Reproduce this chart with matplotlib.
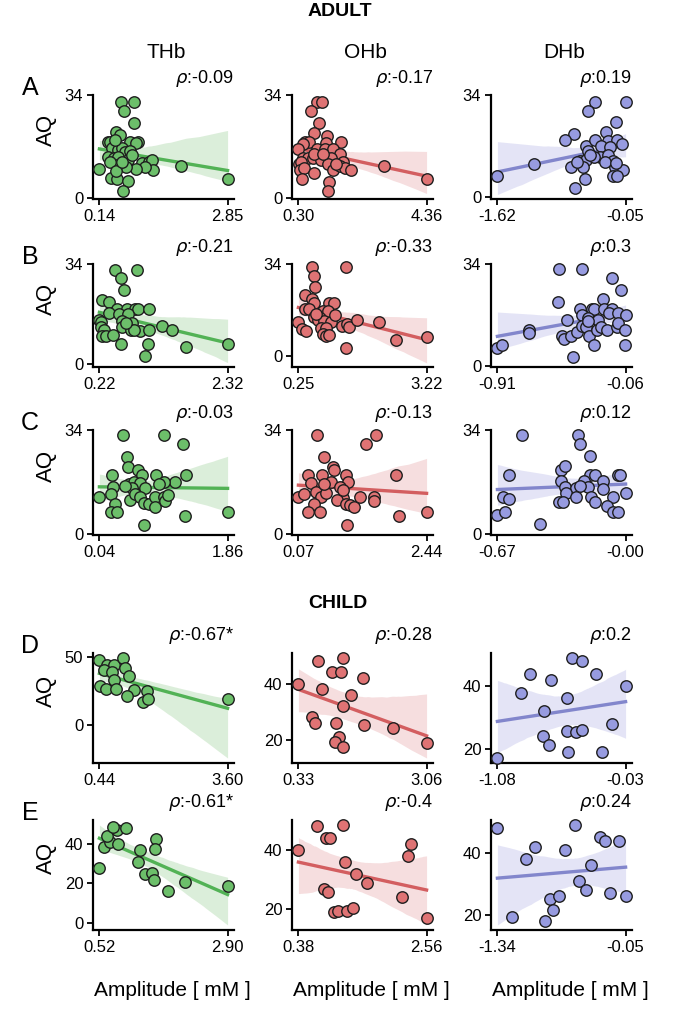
import numpy as np
import matplotlib
matplotlib.use("Agg")
import matplotlib.pyplot as plt

plt.rcParams['font.family'] = ['Liberation Sans', 'DejaVu Sans']
plt.rcParams['mathtext.fontset'] = 'dejavusans'

# ---------------- data ----------------
# ADULT, row A
a_thb_x = [0.60, 0.88, 0.67, 0.88, 0.49, 0.58, 0.33, 0.37, 0.79, 0.95, 0.91, 0.40, 0.53, 0.61, 0.68, 0.79, 0.32, 0.44, 0.54, 0.75,
           0.83, 1.04, 1.18, 1.25, 1.28, 1.11, 0.91, 0.71, 0.51, 0.37, 0.14, 0.39, 0.51, 0.74, 0.63, 1.86, 2.85, 0.49, 0.61, 0.46]
a_thb_y = [31.8, 31.8, 28.7, 24.6, 21.6, 20.8, 18.5, 18.3, 18.5, 18.5, 18.0, 16.4, 15.8, 16.4, 15.3, 15.6, 13.4, 13.1, 13.6, 12.5,
           14.2, 11.4, 11.7, 12.5, 9.2, 10.1, 9.5, 10.1, 10.9, 12.0, 9.5, 6.5, 6.3, 5.4, 2.3, 10.6, 6.3, 8.7, 11.7, 19.1]
a_ohb_x = [0.88, 1.05, 0.70, 0.94, 0.78, 1.20, 1.64, 0.51, 0.62, 1.18, 0.43, 0.88, 1.13, 1.41, 1.61, 0.30, 0.43, 0.59, 0.75, 1.02,
           1.34, 1.71, 1.23, 0.32, 0.38, 0.34, 0.48, 1.41, 1.61, 1.77, 1.98, 0.41, 0.78, 1.26, 1.23, 3.00, 4.36, 1.48, 0.80, 1.07]
a_ohb_y = [31.8, 31.8, 28.8, 24.6, 21.5, 20.4, 18.5, 18.5, 18.5, 18.2, 17.9, 16.3, 16.3, 16.1, 14.6, 16.3, 13.3, 13.3, 13.3, 12.4,
           13.0, 11.8, 11.3, 11.3, 11.8, 9.3, 10.0, 9.3, 10.4, 10.0, 9.3, 6.3, 8.3, 5.2, 2.1, 10.4, 6.1, 11.3, 14.6, 14.4]
a_dhb_x = [-1.62, -1.17, -0.43, -0.51, -0.05, -0.17, -0.68, -0.79, -0.54, -0.42, -0.29, -0.27, -0.15, -0.51, -0.35, -0.24, -0.61, -0.54,
           -0.36, -0.26, -0.20, -0.10, -0.72, -0.57, -0.44, -0.18, -0.08, -0.21, -0.15, -0.55, -0.67, -0.48, -0.30, -0.65, -0.17]
a_dhb_y = [7.0, 10.9, 31.8, 28.8, 31.8, 24.9, 21.0, 19.0, 16.9, 19.0, 21.7, 18.7, 19.0, 15.4, 16.9, 16.7, 12.0, 12.3,
           13.2, 13.9, 12.0, 17.8, 9.8, 9.8, 13.2, 9.8, 9.1, 7.0, 7.0, 6.1, 3.1, 13.9, 11.7, 11.7, 11.2]

# ADULT, row B
b_thb_x = [0.47, 0.84, 0.58, 0.62, 0.26, 0.37, 0.51, 0.67, 0.80, 0.85, 1.03, 0.38, 0.54, 0.69, 0.22, 0.25, 0.59, 0.76,
           0.24, 0.29, 0.59, 0.73, 0.89, 1.03, 1.25, 1.41, 0.26, 0.32, 0.44, 0.78, 0.58, 1.02, 1.64, 0.97, 2.32, 0.65]
b_thb_y = [32.1, 32.1, 29.1, 25.2, 21.9, 21.1, 18.9, 18.9, 18.9, 18.9, 18.9, 17.3, 17.0, 17.0, 15.1, 14.5, 14.8, 14.0,
           12.6, 11.5, 12.6, 11.8, 11.2, 11.8, 12.9, 11.8, 9.7, 9.7, 9.9, 11.8, 6.8, 6.8, 5.8, 2.7, 6.8, 14.0]
b_ohb_x = [0.56, 1.35, 0.60, 0.64, 0.41, 0.56, 0.60, 0.97, 1.07, 0.41, 0.50, 0.81, 0.93, 0.25, 0.33, 0.42, 0.62, 0.74,
           0.70, 0.85, 1.01, 0.78, 0.89, 0.81, 0.89, 0.95, 1.25, 1.38, 1.43, 1.61, 2.11, 2.50, 3.22, 1.35, 0.66, 1.09]
b_ohb_y = [32.8, 32.8, 29.7, 25.6, 22.5, 21.1, 19.7, 19.7, 19.7, 17.3, 17.3, 16.9, 16.9, 12.5, 10.1, 9.4, 14.6, 14.0,
           13.4, 13.0, 12.5, 10.4, 10.4, 8.2, 7.4, 7.8, 11.3, 11.8, 11.0, 13.4, 12.5, 6.2, 7.0, 3.2, 15.7, 15.2]
b_dhb_x = [-0.91, -0.88, -0.70, -0.70, -0.50, -0.35, -0.15, -0.09, -0.51, -0.21, -0.36, -0.28, -0.27, -0.20, -0.15, -0.45, -0.35,
           -0.31, -0.24, -0.17, -0.11, -0.06, -0.48, -0.47, -0.42, -0.38, -0.35, -0.32, -0.30, -0.27, -0.25, -0.22, -0.18,
           -0.12, -0.11, -0.065, -0.065, -0.41, -0.31]
b_dhb_y = [5.9, 7.0, 12.0, 10.9, 32.4, 32.4, 29.3, 25.3, 21.3, 22.2, 19.0, 19.0, 19.0, 19.0, 19.0, 15.2, 17.1,
           16.0, 15.3, 17.7, 17.7, 17.1, 9.8, 8.9, 9.8, 11.3, 13.3, 12.8, 9.8, 7.0, 12.0, 13.1, 12.0,
           13.1, 14.2, 12.0, 7.0, 2.9, 14.9]

# ADULT, row C
c_thb_x = [0.38, 0.96, 1.22, 0.43, 0.45, 0.59, 0.65, 0.22, 0.84, 1.27, 1.11, 0.95, 0.46, 0.53, 0.62, 0.24, 0.50, 0.69, 0.04,
           0.21, 0.26, 0.20, 0.29, 0.48, 0.54, 0.62, 0.67, 0.74, 0.83, 0.83, 0.95, 0.97, 1.02, 0.88, 0.67, 1.26, 1.86, 0.41]
c_thb_y = [32.4, 32.4, 29.3, 25.3, 22.0, 20.9, 19.3, 19.3, 19.1, 19.1, 17.1, 17.1, 16.4, 17.1, 16.8, 15.3, 14.9, 14.9, 12.0,
           13.1, 9.8, 7.0, 7.0, 11.1, 13.1, 12.0, 10.0, 9.8, 12.0, 8.7, 12.0, 10.9, 12.8, 16.4, 2.9, 5.9, 7.0, 15.5]
c_ohb_x = [0.41, 1.51, 1.32, 0.54, 0.71, 0.72, 0.24, 0.51, 0.95, 1.88, 0.99, 0.30, 0.68, 0.83, 0.07, 0.18, 0.40, 0.49,
           0.58, 0.90, 0.78, 0.95, 1.02, 1.10, 1.21, 1.47, 1.47, 0.36, 0.24, 0.47, 0.96, 1.93, 2.44, 0.55, 0.90]
c_ohb_y = [32.4, 32.4, 29.3, 25.3, 22.0, 20.9, 19.3, 19.3, 19.3, 19.3, 17.1, 16.8, 17.1, 15.3, 12.0, 13.1, 13.8, 12.0,
           13.3, 11.7, 11.1, 9.8, 9.5, 8.9, 12.0, 12.0, 10.9, 9.8, 7.0, 7.0, 2.9, 5.9, 7.0, 16.4, 14.4]
c_dhb_x = [-0.67, -0.63, -0.64, -0.61, -0.61, -0.54, -0.45, -0.25, -0.24, -0.19, -0.34, -0.32, -0.19, -0.16, -0.04, -0.03, -0.34,
           -0.22, -0.12, -0.32, -0.26, -0.20, -0.31, -0.26, -0.18, -0.07, -0.002, -0.35, -0.33, -0.16, -0.10, -0.07, -0.04,
           -0.24, -0.12]
c_dhb_y = [6.2, 7.2, 12.2, 11.3, 19.2, 32.2, 3.2, 32.2, 29.3, 25.4, 21.0, 22.1, 19.4, 19.4, 19.4, 19.4, 17.3,
           17.3, 17.3, 15.4, 15.1, 15.4, 13.3, 12.2, 12.2, 12.2, 13.3, 10.3, 10.3, 10.3, 9.0, 7.2, 7.2,
           15.6, 14.6]

# CHILD, row D
d_thb_x = [0.44, 0.63, 0.81, 1.02, 1.08, 0.56, 0.75, 1.18, 0.79, 0.46, 0.61, 0.86, 1.30, 1.13, 1.61, 1.51, 1.65, 3.60]
d_thb_y = [48.0, 44.3, 44.3, 49.3, 42.3, 40.5, 39.3, 36.3, 33.0, 28.5, 26.8, 26.8, 25.5, 21.3, 24.8, 17.3, 19.3, 19.3]
d_ohb_x = [0.33, 0.74, 1.28, 1.04, 1.24, 1.71, 0.83, 1.44, 1.27, 0.63, 0.69, 1.14, 1.72, 2.34, 1.20, 1.11, 1.28, 3.06]
d_ohb_y = [40.0, 48.1, 49.1, 44.1, 44.1, 42.2, 38.1, 36.1, 32.0, 28.2, 26.3, 26.1, 25.3, 24.2, 21.3, 19.4, 17.5, 19.1]
d_dhb_x = [-1.08, -0.89, -0.81, -0.64, -0.70, -0.71, -0.66, -0.51, -0.51, -0.47, -0.39, -0.44, -0.39, -0.50, -0.27, -0.14, -0.22, -0.03]
d_dhb_y = [17.0, 37.9, 44.0, 42.0, 32.1, 24.1, 21.1, 36.2, 25.8, 49.1, 48.0, 25.2, 26.0, 18.9, 44.0, 28.0, 18.9, 40.0]

# CHILD, row E
e_thb_x = [0.52, 0.61, 0.72, 0.84, 1.02, 0.87, 0.66, 1.28, 1.24, 1.37, 1.49, 1.58, 1.56, 1.54, 1.80, 2.10, 2.90, 0.78]
e_thb_y = [27.9, 38.4, 41.1, 47.1, 48.2, 40.0, 44.0, 36.7, 30.7, 24.7, 25.2, 42.7, 37.3, 21.9, 15.9, 20.8, 18.6, 48.5]
e_ohb_x = [0.38, 0.69, 0.85, 0.92, 1.13, 0.82, 0.88, 0.98, 1.18, 1.05, 1.20, 1.36, 1.55, 2.15, 2.25, 2.30, 2.56, 1.30]
e_ohb_y = [40.0, 48.3, 44.2, 44.2, 48.5, 27.0, 26.0, 19.0, 36.0, 19.5, 19.5, 32.0, 29.0, 24.0, 38.0, 42.0, 17.0, 20.5]
e_dhb_x = [-1.34, -1.19, -1.05, -0.96, -0.86, -0.81, -0.78, -0.72, -0.66, -0.56, -0.52, -0.45, -0.40, -0.31, -0.26, -0.21, -0.12, -0.05]
e_dhb_y = [48.0, 19.5, 38.0, 42.0, 18.0, 25.0, 21.5, 26.0, 41.0, 49.0, 31.0, 28.0, 36.0, 45.0, 44.0, 27.0, 44.0, 26.0]

rho_labels = [["-0.09", "-0.17", "0.19"],
              ["-0.21", "-0.33", "0.3"],
              ["-0.03", "-0.13", "0.12"],
              ["-0.67*", "-0.28", "0.2"],
              ["-0.61*", "-0.4", "0.24"]]
row_letters = ["A", "B", "C", "D", "E"]
col_titles = ["THb", "OHb", "DHb"]

panels = [[(a_thb_x, a_thb_y), (a_ohb_x, a_ohb_y), (a_dhb_x, a_dhb_y)],
          [(b_thb_x, b_thb_y), (b_ohb_x, b_ohb_y), (b_dhb_x, b_dhb_y)],
          [(c_thb_x, c_thb_y), (c_ohb_x, c_ohb_y), (c_dhb_x, c_dhb_y)],
          [(d_thb_x, d_thb_y), (d_ohb_x, d_ohb_y), (d_dhb_x, d_dhb_y)],
          [(e_thb_x, e_thb_y), (e_ohb_x, e_ohb_y), (e_dhb_x, e_dhb_y)]]

face_cols = ["#6cbf6a", "#df7374", "#979be0"]
line_cols = ["#52b255", "#d35e60", "#8286cc"]
band_cols = ["#d3ead1", "#f4d6d7", "#dedef4"]

child_yticks = [[[0, 50], [20, 40], [20, 40]],
                [[0, 20, 40], [20, 40], [20, 40]]]

# ---------------- layout (pixels of a 695 x 1009 figure) ----------------
W, H = 695, 1009
col_left = [93, 292, 491]
col_w = 141
row_top = [95, 264, 430, 653, 820]
row_bot = [199, 367, 535, 763, 930]

fig = plt.figure(figsize=(W / 100, H / 100), dpi=100)


def fit_band(x, y, n_boot=1000, seed=0):
    # regression line with a bootstrapped 95% band, as seaborn's regplot does
    x = np.asarray(x, float)
    y = np.asarray(y, float)
    n = len(x)
    xs = np.linspace(x.min(), x.max(), 100)
    b, a = np.polyfit(x, y, 1)
    yhat = a + b * xs
    rng = np.random.default_rng(seed)
    idx = rng.integers(0, n, size=(n_boot, n))
    bx, by = x[idx], y[idx]
    mx, my = bx.mean(1, keepdims=True), by.mean(1, keepdims=True)
    sxx = ((bx - mx) ** 2).sum(1)
    sxx[sxx == 0] = np.nan
    slope = ((bx - mx) * (by - my)).sum(1) / sxx
    icpt = my[:, 0] - slope * mx[:, 0]
    preds = icpt[:, None] + slope[:, None] * xs[None, :]
    lo, hi = np.nanpercentile(preds, [2.5, 97.5], axis=0)
    return xs, yhat, lo, hi


for r in range(5):
    for c in range(3):
        x, y = panels[r][c]
        ax = fig.add_axes([col_left[c] / W, 1 - row_bot[r] / H, col_w / W, (row_bot[r] - row_top[r]) / H])
        xs, yhat, lo, hi = fit_band(x, y, seed=r * 3 + c)
        ax.fill_between(xs, lo, hi, color=band_cols[c], alpha=0.8, lw=0, zorder=1)
        ax.plot(xs, yhat, color=line_cols[c], lw=2.4, zorder=3)
        ax.scatter(x, y, s=68, facecolor=face_cols[c], edgecolor="#1e1e1e", linewidth=1.0, zorder=4, clip_on=False)
        ax.margins(x=0.05, y=0.05)
        xmin, xmax = min(x), max(x)
        ax.set_xticks([xmin, xmax])
        ax.set_xticklabels([f"{xmin:.2f}", f"{xmax:.2f}"])
        if r < 3:
            ax.set_ylim(min(-0.4, lo.min() - 1.5), 34)
            ax.set_yticks([0, 34])
        else:
            ax.set_yticks(child_yticks[r - 3][c])
        for sp in ["top", "right"]:
            ax.spines[sp].set_visible(False)
        for sp in ["left", "bottom"]:
            ax.spines[sp].set_linewidth(1.6)
        ax.tick_params(labelsize=12, width=1.3, length=4, pad=3)
        ax.text(1.0, 1.06, r"$\rho$:" + rho_labels[r][c], transform=ax.transAxes,
                ha="right", va="bottom", fontsize=13)

    ymid = 1 - (row_top[r] + row_bot[r]) / 2 / H + 17 / H
    fig.text(46 / W, ymid, "AQ", rotation=90, ha="center", va="center", fontsize=16)
    fig.text(30 / W, 1 - (row_top[r] - 7) / H, row_letters[r], ha="center", va="center", fontsize=18)

fig.text(340 / W, 1 - 12 / H, "ADULT", ha="center", va="center", fontsize=14, fontweight="bold")
fig.text(338 / W, 1 - 603 / H, "CHILD", ha="center", va="center", fontsize=14, fontweight="bold")
for c, t in enumerate(col_titles):
    fig.text((col_left[c] + col_w / 2 + 3) / W, 1 - 52 / H, t, ha="center", va="center", fontsize=15)
    fig.text((col_left[c] + col_w / 2 + 9) / W, 1 - 990 / H, "Amplitude [ mM ]", ha="center", va="center", fontsize=15)

fig.savefig("out.png", dpi=100)
